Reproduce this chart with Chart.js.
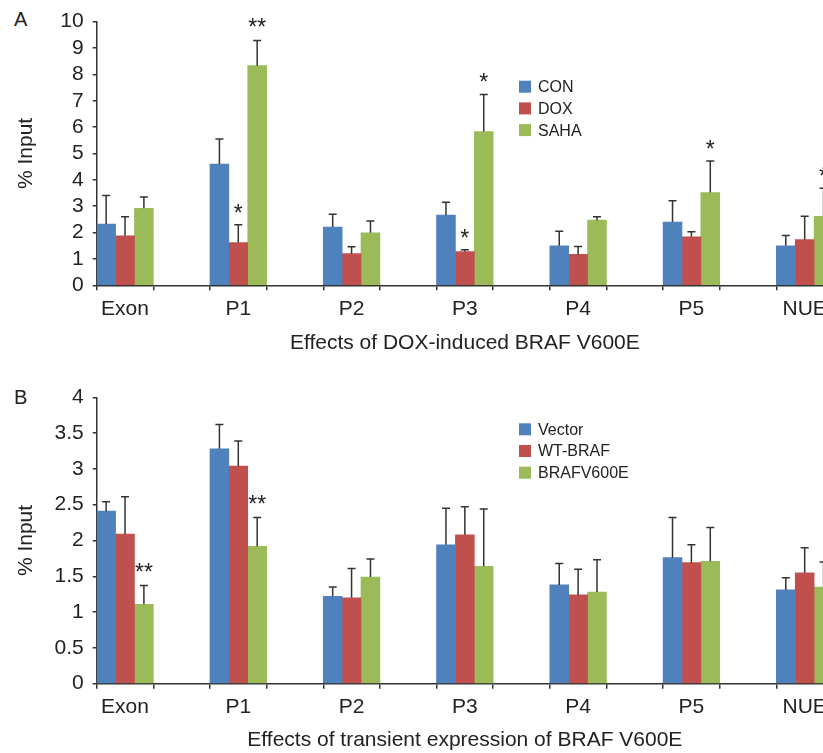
<!DOCTYPE html>
<html>
<head>
<meta charset="utf-8">
<script src="https://cdn.jsdelivr.net/npm/chart.js@4"></script>
<style>
html, body { margin: 0; padding: 0; background: #fff; overflow: hidden; }
body { width: 823px; height: 753px; position: relative; font-family: "Liberation Sans", Arial, sans-serif; color: #222; }
canvas { position: absolute; left: 0; }
#chartA { top: 0; }
#chartB { top: 370px; }
.panel { position: absolute; left: 14px; font-size: 20px; }
</style>
</head>
<body>
<div class="panel" style="top:8px">A</div>
<div class="panel" style="top:386px">B</div>
<canvas id="chartA" width="833" height="370"></canvas>
<canvas id="chartB" width="833" height="383"></canvas>
<script>
var categories = ['Exon', 'P1', 'P2', 'P3', 'P4', 'P5', 'NUE'];

// A: effects of DOX-induced BRAF V600E
var conValues  = [2.32, 4.60, 2.21, 2.66, 1.50, 2.40, 1.50];
var conErrors  = [1.09, 0.95, 0.48, 0.49, 0.55, 0.81, 0.39];
var doxValues  = [1.88, 1.62, 1.20, 1.28, 1.17, 1.84, 1.73];
var doxErrors  = [0.72, 0.68, 0.26, 0.07, 0.30, 0.19, 0.89];
var doxStars   = ['', '*', '', '*', '', '', ''];
var sahaValues = [2.92, 8.33, 1.99, 5.83, 2.47, 3.52, 2.62];
var sahaErrors = [0.43, 0.95, 0.45, 1.41, 0.13, 1.19, 1.06];
var sahaStars  = ['', '**', '', '*', '', '*', '*'];

// B: effects of transient expression of BRAF V600E
var vectorValues = [2.41, 3.28, 1.22, 1.94, 1.38, 1.76, 1.31];
var vectorErrors = [0.13, 0.34, 0.13, 0.51, 0.30, 0.56, 0.17];
var wtValues     = [2.09, 3.04, 1.20, 2.08, 1.24, 1.69, 1.55];
var wtErrors     = [0.52, 0.35, 0.41, 0.39, 0.36, 0.25, 0.35];
var mutValues    = [1.11, 1.92, 1.49, 1.64, 1.28, 1.71, 1.35];
var mutErrors    = [0.26, 0.40, 0.25, 0.80, 0.45, 0.47, 0.35];
var mutStars     = ['**', '**', '', '', '', '', ''];

var BLUE = '#4F81BD', RED = '#C0504D', GREEN = '#9BBB59';
var FONT = '"Liberation Sans", Arial, sans-serif';

Chart.defaults.font.family = FONT;
Chart.defaults.color = '#222';

// an empty slot between groups, like the original spacing
function spread(arr, fill) {
    var out = [];
    arr.forEach(function(v, i) {
        out.push(v);
        if (i < arr.length - 1) out.push(fill);
    });
    return out;
}

var errorBars = {
    id: 'errorBars',
    afterDatasetsDraw: function(chart) {
        var ctx = chart.ctx, y = chart.scales.y;
        chart.data.datasets.forEach(function(ds, i) {
            var meta = chart.getDatasetMeta(i);
            meta.data.forEach(function(bar, j) {
                var v = ds.data[j], e = ds.errors[j];
                if (v == null || e == null) return;
                var top = y.getPixelForValue(v + e);
                ctx.save();
                ctx.strokeStyle = '#333';
                ctx.lineWidth = 1.5;
                ctx.beginPath();
                ctx.moveTo(bar.x, bar.y);
                ctx.lineTo(bar.x, top);
                ctx.moveTo(bar.x - 4, top);
                ctx.lineTo(bar.x + 4, top);
                ctx.stroke();
                var s = ds.stars && ds.stars[j];
                if (s) {
                    ctx.fillStyle = '#222';
                    ctx.font = '23px ' + FONT;
                    ctx.textAlign = 'center';
                    ctx.textBaseline = 'alphabetic';
                    ctx.fillText(s, bar.x, top - (s.length > 1 ? 6 : 4));
                }
                ctx.restore();
            });
        });
    }
};

var boxLegend = {
    id: 'boxLegend',
    afterDraw: function(chart, args, opts) {
        var ctx = chart.ctx;
        ctx.save();
        ctx.font = '16px ' + FONT;
        ctx.textBaseline = 'middle';
        chart.data.datasets.forEach(function(ds, i) {
            var cy = opts.y + i * opts.gap;
            ctx.fillStyle = ds.backgroundColor;
            ctx.fillRect(opts.x, cy - 6, 12, 12);
            ctx.fillStyle = '#222';
            ctx.fillText(ds.label, opts.x + 19, cy + 1);
        });
        ctx.restore();
    }
};

function makeChart(id, series, yMax, yStep, xTitle, padTop, xHeight, titlePad, legendY) {
    var ctx = document.getElementById(id).getContext('2d');
    return new Chart(ctx, {
        type: 'bar',
        data: {
            labels: spread(categories, ''),
            datasets: series.map(function(s) {
                return {
                    label: s.label,
                    data: spread(s.values, null),
                    errors: spread(s.errors, null),
                    stars: s.stars ? spread(s.stars, '') : null,
                    backgroundColor: s.color,
                    borderWidth: 0,
                    categoryPercentage: 1,
                    barPercentage: 1
                };
            })
        },
        options: {
            responsive: false,
            animation: false,
            devicePixelRatio: 1,
            layout: { padding: { top: padTop, left: 0, right: 0, bottom: 0 } },
            plugins: {
                legend: { display: false },
                tooltip: { enabled: false },
                boxLegend: { x: 519, y: legendY, gap: 21.7 }
            },
            scales: {
                x: {
                    offset: true,
                    border: { color: '#333', width: 1.5 },
                    grid: { drawOnChartArea: false, drawTicks: true, tickLength: 5, color: '#333', lineWidth: 1.5, offset: true },
                    ticks: { font: { size: 21 }, padding: 6, maxRotation: 0, autoSkip: false },
                    title: { display: true, text: xTitle, font: { size: 21 }, padding: { top: 0, bottom: titlePad } },
                    afterFit: function(s) { s.height = xHeight; }
                },
                y: {
                    min: 0,
                    max: yMax,
                    border: { color: '#333', width: 1.5 },
                    grid: { drawOnChartArea: false, drawTicks: true, tickLength: 4, color: '#333', lineWidth: 1.5 },
                    ticks: {
                        stepSize: yStep,
                        autoSkip: false,
                        font: { size: 21 },
                        padding: 9,
                        callback: function(v) { return String(v); }
                    },
                    title: { display: true, text: '% Input', font: { size: 21 }, padding: { top: 13.4, bottom: 0 } },
                    afterFit: function(s) { s.width = 96.7; }
                }
            }
        },
        plugins: [errorBars, boxLegend]
    });
}

makeChart('chartA', [
    { label: 'CON', values: conValues, errors: conErrors, color: BLUE },
    { label: 'DOX', values: doxValues, errors: doxErrors, stars: doxStars, color: RED },
    { label: 'SAHA', values: sahaValues, errors: sahaErrors, stars: sahaStars, color: GREEN }
], 10, 1, 'Effects of DOX-induced BRAF V600E', 17.3, 84.7, 14.6, 86.7);

makeChart('chartB', [
    { label: 'Vector', values: vectorValues, errors: vectorErrors, color: BLUE },
    { label: 'WT-BRAF', values: wtValues, errors: wtErrors, color: RED },
    { label: 'BRAFV600E', values: mutValues, errors: mutErrors, stars: mutStars, color: GREEN }
], 4, 0.5, 'Effects of transient expression of BRAF V600E', 27.3, 69.3, 0, 59.3);
</script>
</body>
</html>
